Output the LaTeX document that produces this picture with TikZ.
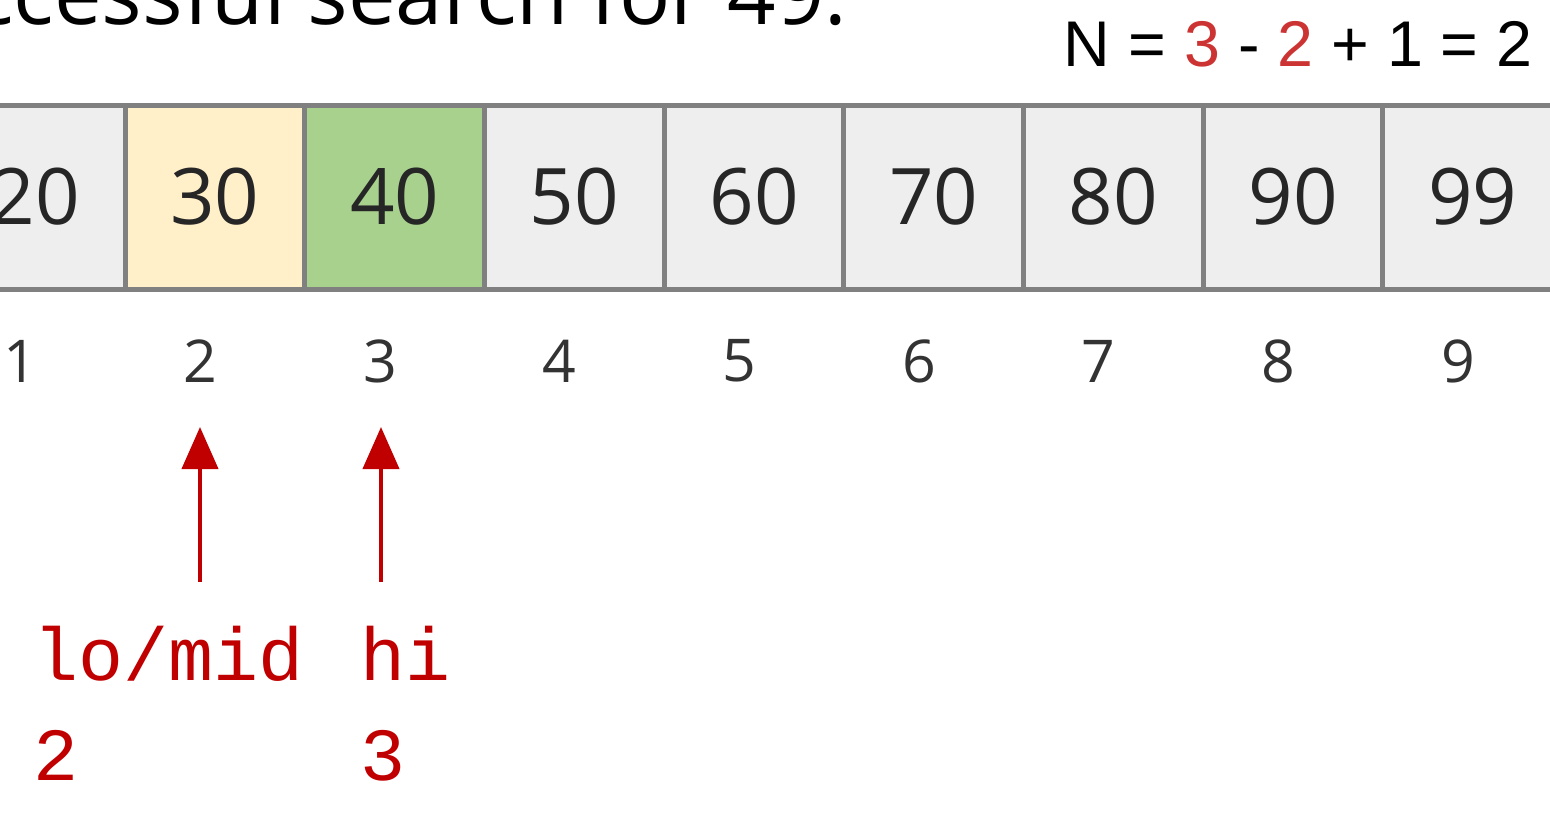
\documentclass[tikz,border=0pt]{standalone}
\usepackage{fontspec}
\setmainfont{Open Sans}
\newfontfamily\formulafont{Liberation Sans}
\newfontfamily\codefont{Liberation Mono}
\usetikzlibrary{arrows.meta}
\definecolor{cellgray}{HTML}{EEEEEE}
\definecolor{cellline}{HTML}{808080}
\definecolor{loyellow}{HTML}{FFF0C9}
\definecolor{higreen}{HTML}{A9D18E}
\definecolor{ptrred}{HTML}{C00000}
\definecolor{numred}{HTML}{CC3333}

\begin{document}
\begin{tikzpicture}
    [
        x=0.5pt, y=-0.5pt,
        every node/.style={inner sep=0pt},
        cell/.style={draw=cellline, line width=2.5pt, fill=cellgray, minimum width=89.85pt, minimum height=92pt, text=black!85, font=\fontsize{39}{39}\selectfont},
        index/.style={text=black!80, font=\fontsize{29.5}{30}\selectfont},
        pointer/.style={draw=ptrred, line width=2pt, -{Triangle[length=21pt,width=18pt]}},
        tag/.style={anchor=base west, text=ptrred, font=\codefont\fontsize{37.5}{38}\selectfont},
    ]
  \useasboundingbox (0,0) rectangle (1550,814);
  \clip (0,0) rectangle (1550,814);

  % Text
  \node [anchor=base east, font=\fontsize{42.5}{42.5}\selectfont] (title) at (848,24) {ccessful search for 49.};
  \node [anchor=base east, font=\formulafont\fontsize{32.3}{32}\selectfont] (count) at (1533,66) {N = {\color{numred}3} - {\color{numred}2} + 1 = 2};

  % Array
  \node [cell] (c1) at (35.2,197) {20};
  \node [cell, fill=loyellow] (c2) at (214.9,197) {30};
  \node [cell, fill=higreen] (c3) at (394.6,197) {40};
  \node [cell] (c4) at (574.3,197) {50};
  \node [cell] (c5) at (754.0,197) {60};
  \node [cell] (c6) at (933.7,197) {70};
  \node [cell] (c7) at (1113.4,197) {80};
  \node [cell] (c8) at (1293.1,197) {90};
  \node [cell] (c9) at (1472.8,197) {99};

  % Indices
  \node [index] (i1) at (20,361) {1};
  \node [index] (i2) at (200,361) {2};
  \node [index] (i3) at (380,361) {3};
  \node [index] (i4) at (559,361) {4};
  \node [index] (i5) at (739,361) {5};
  \node [index] (i6) at (919,361) {6};
  \node [index] (i7) at (1098,361) {7};
  \node [index] (i8) at (1278,361) {8};
  \node [index] (i9) at (1458,361) {9};

  % Pointers
  \node [tag] (lomid) at (33,680) {lo/mid};
  \node [tag] (hi) at (360,680) {hi};
  \node [tag] (loval) at (33,780) {2};
  \node [tag] (hival) at (360,780) {3};
  \coordinate (lotail) at (200,582);
  \coordinate (lotip) at (200,427);
  \coordinate (hitail) at (381,582);
  \coordinate (hitip) at (381,427);

  % Connections
  \draw [pointer] (lotail) -- (lotip);
  \draw [pointer] (hitail) -- (hitip);
\end{tikzpicture}
\end{document}
